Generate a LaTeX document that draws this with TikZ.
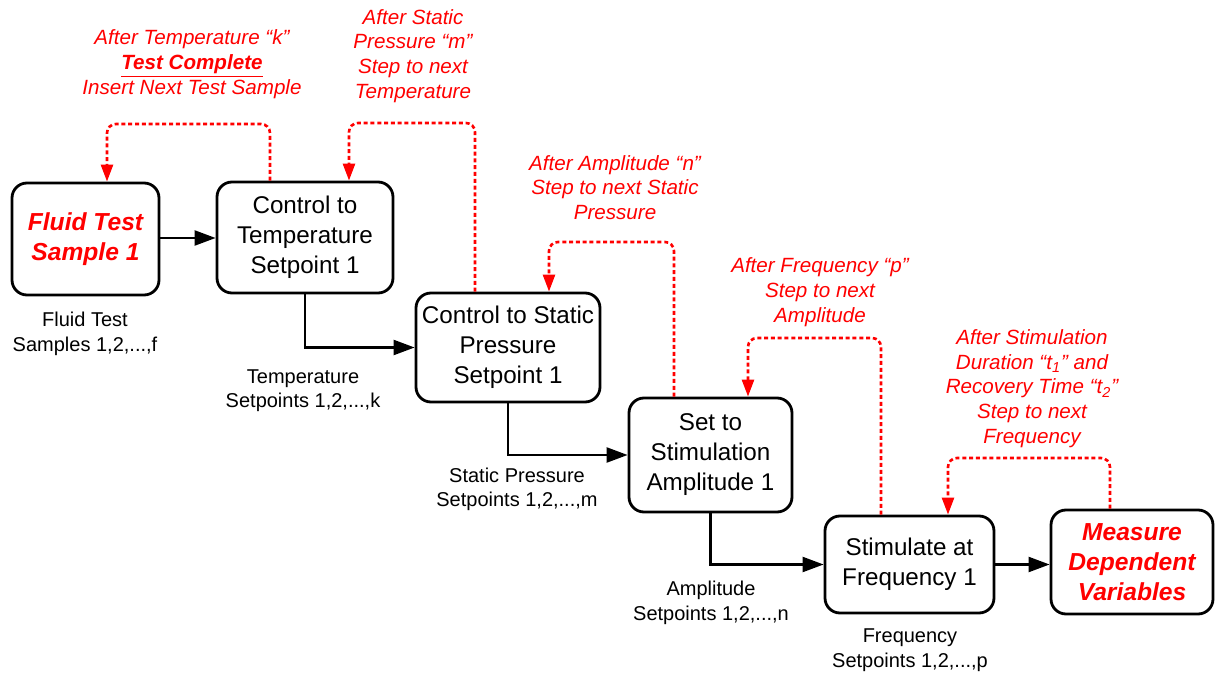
\documentclass[tikz,border=0pt]{standalone}
\usepackage{fontspec}
\setmainfont{Liberation Sans}
\usetikzlibrary{arrows.meta}
\begin{document}
\begin{tikzpicture}[x=0.5pt,y=-0.5pt,
  stage/.style={draw, line width=1.4pt, rounded corners=7.5pt, align=center,
    inner sep=0pt, font=\fontsize{12.1}{15}\selectfont},
  keystage/.style={stage, text=red, font=\fontsize{12.3}{15}\selectfont\bfseries\itshape},
  flow/.style={line width=1.1pt, -{Triangle[length=10.5pt,width=7.5pt]}},
  loopback/.style={red, line width=1.3pt, dash pattern=on 2pt off 1.4pt,
    rounded corners=4.5pt, -{Triangle[length=8.5pt,width=6pt]}},
  note/.style={text=red, align=center, font=\fontsize{10.3}{12.4}\selectfont\itshape},
  setrange/.style={align=center, font=\fontsize{10}{12.3}\selectfont}]
\useasboundingbox (0,0) rectangle (1217,673);

% process stages
\node[keystage, minimum width=73.5pt, minimum height=56pt] (sample) at (85.5,239) {Fluid Test\\Sample 1};
\node[stage, minimum width=88pt, minimum height=55.5pt] (temp) at (305,237.5) {Control to\\Temperature\\Setpoint 1};
\node[stage, minimum width=92pt, minimum height=54.5pt] (press) at (508,347.5) {Control to Static\\Pressure\\Setpoint 1};
\node[stage, minimum width=81.5pt, minimum height=57pt] (ampl) at (710.5,455) {Set to\\Stimulation\\Amplitude 1};
\node[stage, minimum width=84.5pt, minimum height=48.5pt] (freq) at (909.5,564.5) {Stimulate at\\Frequency 1};
\node[keystage, minimum width=81pt, minimum height=52pt] (meas) at (1132,562) {Measure\\Dependent\\Variables};

% forward flow
\draw[flow] (sample.east |- 0,238) -- (temp.west |- 0,238);
\draw[flow] (temp.south) |- (press.west);
\draw[flow] (press.south) |- (ampl.west);
\draw[flow] (ampl.south) |- (freq.west);
\draw[flow] (freq.east) -- (meas.west |- freq.east);

% loop-back paths
\draw[loopback] (270,0 |- temp.north) -- (270,124) -- (107,124) -- (107,0 |- sample.north);
\draw[loopback] (475,0 |- press.north) -- (475,123) -- (349,123) -- (349,0 |- temp.north);
\draw[loopback] (674,0 |- ampl.north) -- (674,242) -- (549,242) -- (549,0 |- press.north);
\draw[loopback] (881,0 |- freq.north) -- (881,338) -- (748,338) -- (748,0 |- ampl.north);
\draw[loopback] (1110,0 |- meas.north) -- (1110,458) -- (948,458) -- (948,0 |- freq.north);

% loop-back notes
\node[note] (n1) at (192,64) {After Temperature “k”\\\textbf{\underline{Test Complete}}\\Insert Next Test Sample};
\node[note] (n2) at (413,56) {After Static\\Pressure “m”\\Step to next\\Temperature};
\node[note] (n3) at (615,187.5) {After Amplitude “n”\\Step to next Static\\Pressure};
\node[note] (n4) at (820,292) {After Frequency “p”\\Step to next\\Amplitude};
\node[note] (n5) at (1032,388.5) {After Stimulation\\Duration “t\textsubscript{1}” and\\Recovery Time “t\textsubscript{2}”\\Step to next\\Frequency};

% setpoint ranges
\node[setrange] (r1) at (85,334) {Fluid Test\\Samples 1,2,...,f};
\node[setrange] (r2) at (303,390.5) {Temperature\\Setpoints 1,2,...,k};
\node[setrange] (r3) at (517,489.5) {Static Pressure\\Setpoints 1,2,...,m};
\node[setrange] (r4) at (711,603) {Amplitude\\Setpoints 1,2,...,n};
\node[setrange] (r5) at (910,650) {Frequency\\Setpoints 1,2,...,p};
\end{tikzpicture}
\end{document}
